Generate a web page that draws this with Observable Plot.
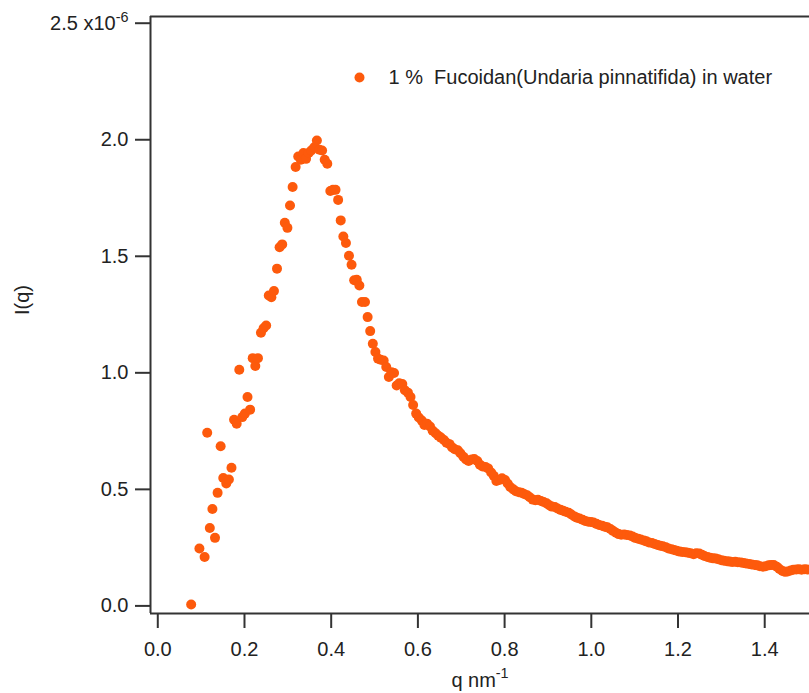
<!DOCTYPE html>
<html>
<head>
<meta charset="utf-8">
<script src="https://cdn.jsdelivr.net/npm/d3@7"></script>
<script src="https://cdn.jsdelivr.net/npm/@observablehq/plot@0.6"></script>
<style>
  html, body { margin: 0; padding: 0; background: #fff; }
  svg text { white-space: pre; }
</style>
</head>
<body>
<div id="chart"></div>
<script>
// q (nm^-1)
const q = [
  0.077, 0.096, 0.108, 0.114, 0.120, 0.126, 0.132, 0.138, 0.145, 0.151,
  0.158, 0.164, 0.170, 0.176, 0.182, 0.188, 0.195, 0.201, 0.207, 0.213,
  0.219, 0.225, 0.231, 0.238, 0.244, 0.250, 0.256, 0.262, 0.268, 0.275,
  0.281, 0.287, 0.293, 0.299, 0.305, 0.311, 0.318, 0.324, 0.330, 0.336,
  0.342, 0.348, 0.354, 0.361, 0.367, 0.373, 0.379, 0.385, 0.391, 0.398,
  0.404, 0.410, 0.416, 0.422, 0.428, 0.434, 0.441, 0.447, 0.453, 0.459,
  0.465, 0.471, 0.478, 0.484, 0.490, 0.496, 0.502, 0.508, 0.514, 0.521,
  0.527, 0.533, 0.539, 0.545, 0.551,
  0.557, 0.564, 0.570, 0.577, 0.583, 0.589, 0.596, 0.602, 0.609, 0.615,
  0.621, 0.628, 0.634, 0.641, 0.647, 0.653, 0.660, 0.666, 0.673, 0.679,
  0.685, 0.692, 0.698, 0.705, 0.711, 0.717, 0.724, 0.730, 0.737, 0.743,
  0.749, 0.756, 0.762, 0.769, 0.775, 0.781, 0.788, 0.794, 0.801, 0.807,
  0.813, 0.820, 0.826, 0.833, 0.839, 0.845, 0.852, 0.858, 0.865, 0.871,
  0.877, 0.884, 0.890, 0.897, 0.903, 0.909, 0.916, 0.922, 0.929, 0.935,
  0.941, 0.948, 0.954, 0.961, 0.967, 0.973, 0.980, 0.986, 0.993, 0.999,
  1.005, 1.012, 1.018, 1.025, 1.031, 1.037, 1.044, 1.050, 1.057, 1.063,
  1.069, 1.076, 1.082, 1.089, 1.095, 1.101, 1.108, 1.114, 1.121, 1.127,
  1.133, 1.140, 1.146, 1.153, 1.159, 1.165, 1.172, 1.178, 1.185, 1.191,
  1.197, 1.204, 1.210, 1.217, 1.223, 1.229, 1.236, 1.242, 1.249, 1.255,
  1.261, 1.268, 1.274, 1.281, 1.287, 1.293, 1.300, 1.306, 1.313, 1.319,
  1.325, 1.332, 1.338, 1.345, 1.351, 1.357, 1.364, 1.370, 1.377, 1.383,
  1.389, 1.396, 1.402, 1.409, 1.415, 1.421, 1.428, 1.434, 1.441, 1.447,
  1.453, 1.460, 1.466, 1.473, 1.479, 1.485, 1.492, 1.498
];
// I(q), in units of 1e-6
const intensity = [
  0.006, 0.246, 0.210, 0.743, 0.334, 0.416, 0.292, 0.485, 0.685, 0.549,
  0.525, 0.542, 0.593, 0.799, 0.782, 1.013, 0.810, 0.825, 0.896, 0.842,
  1.063, 1.029, 1.063, 1.172, 1.191, 1.203, 1.332, 1.324, 1.351, 1.447,
  1.539, 1.551, 1.644, 1.622, 1.718, 1.797, 1.883, 1.928, 1.914, 1.943,
  1.918, 1.943, 1.954, 1.968, 1.997, 1.957, 1.954, 1.914, 1.897, 1.780,
  1.785, 1.785, 1.742, 1.654, 1.585, 1.557, 1.502, 1.464, 1.397, 1.399,
  1.375, 1.304, 1.304, 1.239, 1.179, 1.125, 1.089, 1.061, 1.056, 1.053,
  1.025, 0.982, 1.003, 0.999, 0.946,
  0.955, 0.952, 0.925, 0.915, 0.896, 0.862, 0.825, 0.808, 0.795, 0.776,
  0.782, 0.770, 0.752, 0.741, 0.730, 0.722, 0.712, 0.700, 0.694, 0.680,
  0.672, 0.668, 0.655, 0.640, 0.628, 0.622, 0.628, 0.630, 0.622, 0.606,
  0.598, 0.596, 0.590, 0.572, 0.558, 0.536, 0.540, 0.548, 0.540, 0.525,
  0.510, 0.500, 0.492, 0.488, 0.486, 0.480, 0.475, 0.466, 0.456, 0.453,
  0.455, 0.450, 0.446, 0.440, 0.432, 0.426, 0.424, 0.418, 0.412, 0.408,
  0.404, 0.400, 0.392, 0.384, 0.378, 0.375, 0.370, 0.364, 0.361, 0.360,
  0.358, 0.352, 0.347, 0.344, 0.340, 0.337, 0.330, 0.322, 0.314, 0.308,
  0.305, 0.306, 0.304, 0.302, 0.298, 0.292, 0.288, 0.285, 0.281, 0.277,
  0.272, 0.270, 0.266, 0.261, 0.258, 0.256, 0.252, 0.246, 0.243, 0.240,
  0.237, 0.233, 0.231, 0.230, 0.228, 0.226, 0.222, 0.226, 0.225, 0.220,
  0.214, 0.210, 0.207, 0.204, 0.203, 0.200, 0.196, 0.194, 0.192, 0.190,
  0.188, 0.189, 0.187, 0.186, 0.184, 0.182, 0.180, 0.178, 0.176, 0.174,
  0.170, 0.168, 0.170, 0.174, 0.176, 0.175, 0.168, 0.158, 0.150, 0.146,
  0.148, 0.152, 0.155, 0.156, 0.157, 0.155, 0.157, 0.156
];
const xTicks = [0, 0.2, 0.4, 0.6, 0.8, 1.0, 1.2, 1.4];
const yTicks = [0, 0.5, 1.0, 1.5, 2.0, 2.5];
const xDomain = [-0.0168, 1.5033];
const yDomain = [-0.0326, 2.5288];
const seriesLabel = "1 %  Fucoidan(Undaria pinnatifida) in water";
const xTitle = "q nm-1";
const yTitle = "I(q)";

const dotColor = "#fd5a0c";
const axisColor = "#333";
const fs = 20;

const data = q.map((v, i) => ({q: v, I: intensity[i]}));

const chart = Plot.plot({
  width: 809,
  height: 693,
  marginLeft: 150,
  marginRight: 0,
  marginTop: 16,
  marginBottom: 80,
  style: {fontFamily: "'Liberation Sans', Arial, sans-serif", fontSize: fs + "px", color: "#222", background: "#fff"},
  x: {domain: xDomain},
  y: {domain: yDomain},
  marks: [
    Plot.axisY(yTicks, {
      tickSize: 15, tickPadding: 7, strokeWidth: 2, stroke: axisColor,
      tickFormat: d => d === 2.5 ? "2.5 x10-6" : d.toFixed(1),
      fontSize: fs, label: null
    }),
    Plot.axisX(xTicks, {
      tickSize: 15, tickPadding: 13, strokeWidth: 2, stroke: axisColor,
      tickFormat: d => d.toFixed(1), fontSize: fs, label: null
    }),
    Plot.ruleX([xDomain[0]], {stroke: axisColor, strokeWidth: 2}),
    Plot.ruleY([yDomain[0]], {stroke: axisColor, strokeWidth: 2}),
    Plot.ruleY([yDomain[1]], {stroke: axisColor, strokeWidth: 2}),
    Plot.dot(data, {x: "q", y: "I", r: 5, fill: dotColor, stroke: "none"}),
    Plot.dot([seriesLabel], {frameAnchor: "top-left", dx: 209, dy: 61, r: 5, fill: dotColor, stroke: "none"}),
    Plot.text([seriesLabel], {frameAnchor: "top-left", dx: 238, dy: 61, text: d => d, textAnchor: "start", lineAnchor: "middle", fontSize: fs, fill: "#222"}),
    Plot.text([yTitle], {frameAnchor: "left", dx: -128, rotate: -90, text: d => d, lineAnchor: "middle", fontSize: fs, fill: "#222"}),
    Plot.text([xTitle], {frameAnchor: "bottom", dy: 67, text: d => d, lineAnchor: "middle", fontSize: fs, fill: "#222"})
  ]
});

document.getElementById("chart").appendChild(chart);

// superscripts for exponents
chart.querySelectorAll("text").forEach(t => {
  const s = t.textContent;
  if (s === "2.5 x10-6") {
    t.innerHTML = '2.5 x10<tspan dy="-0.55em" font-size="0.72em">-6</tspan>';
  } else if (s === xTitle) {
    t.innerHTML = 'q nm<tspan dy="-0.6em" font-size="0.72em">-1</tspan>';
  }
});
</script>
</body>
</html>
